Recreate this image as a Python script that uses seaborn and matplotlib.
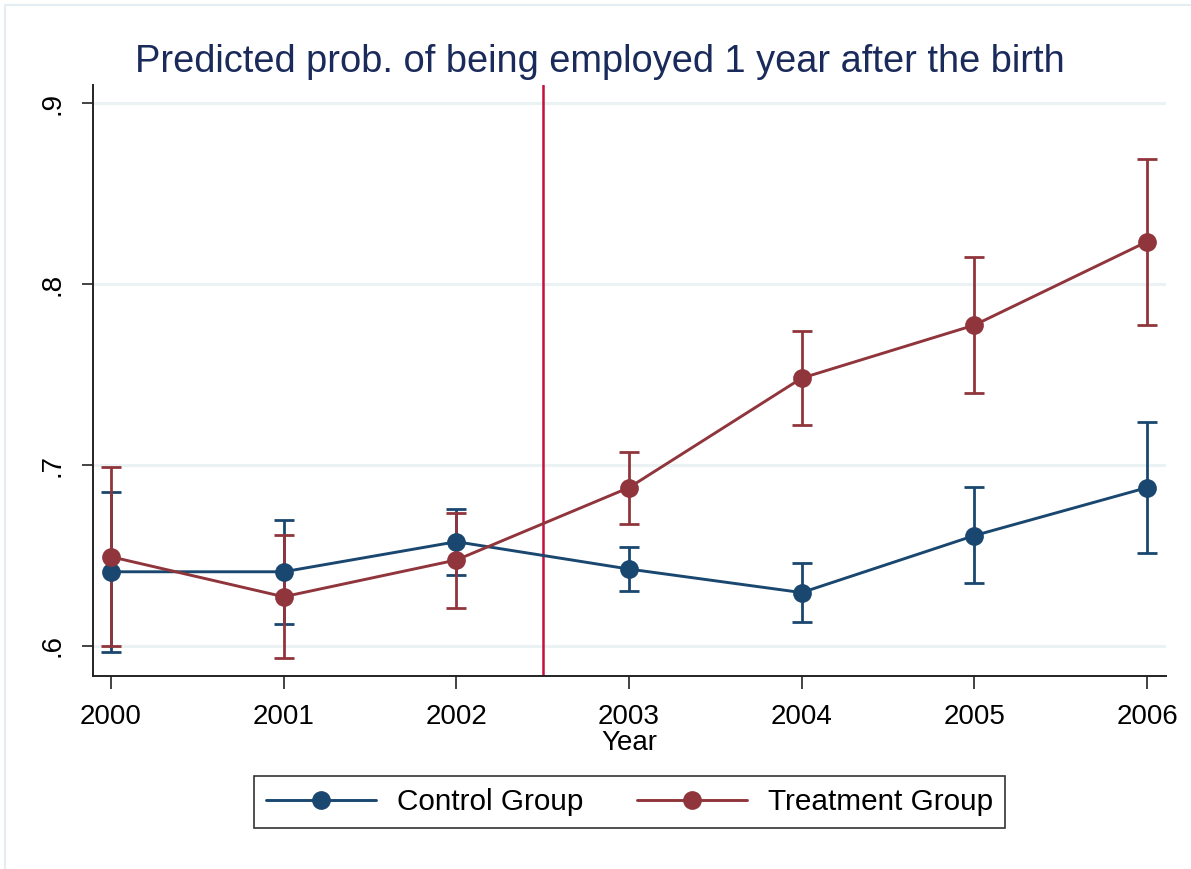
import matplotlib
matplotlib.use("Agg")
import matplotlib.pyplot as plt
from matplotlib.patches import Rectangle
import numpy as np
import pandas as pd
import seaborn as sns

# Predicted employment probabilities with 95% confidence bounds
years = [2000, 2001, 2002, 2003, 2004, 2005, 2006]
control = [0.641, 0.641, 0.6576, 0.6425, 0.6295, 0.661, 0.6875]
control_lo = [0.5965, 0.612, 0.6394, 0.6306, 0.6131, 0.6346, 0.6512]
control_hi = [0.6853, 0.6696, 0.6759, 0.6545, 0.6457, 0.6877, 0.7239]
treatment = [0.6493, 0.6272, 0.6475, 0.6875, 0.748, 0.7773, 0.8234]
treatment_lo = [0.600, 0.5935, 0.6212, 0.6674, 0.7219, 0.7396, 0.7773]
treatment_hi = [0.6991, 0.6612, 0.6733, 0.7073, 0.774, 0.8147, 0.8689]
groups = ["Control Group", "Treatment Group"]
reform_year = 2002.5
y_ticks = [0.6, 0.7, 0.8, 0.9]
y_tick_labels = [".6", ".7", ".8", ".9"]

NAVY = "#1a476f"
MAROON = "#90353b"
REFORM = "#c4103c"
GRID = "#eaf2f3"
TITLE = "#1a2a5a"

df = pd.DataFrame({
    "year": years * 2,
    "prob": control + treatment,
    "lo": control_lo + treatment_lo,
    "hi": control_hi + treatment_hi,
    "group": [groups[0]] * len(years) + [groups[1]] * len(years),
})

sns.set_theme(style="white")
plt.rcParams["font.family"] = ["Liberation Sans", "DejaVu Sans"]

fig = plt.figure(figsize=(11.91, 8.69), dpi=100)
ax = fig.add_axes([93 / 1191, 1 - 676 / 869, (1166 - 93) / 1191, (676 - 85) / 869])

# horizontal grid lines
for yt in y_ticks:
    ax.axhline(yt, color=GRID, lw=2.2, zorder=0)

# reform year marker
ax.axvline(reform_year, color=REFORM, lw=1.8, zorder=1)

palette = {groups[0]: NAVY, groups[1]: MAROON}
for g in groups:
    sub = df[df["group"] == g]
    ax.errorbar(sub["year"], sub["prob"],
                yerr=[sub["prob"] - sub["lo"], sub["hi"] - sub["prob"]],
                fmt="none", ecolor=palette[g], elinewidth=2.0,
                capsize=7.5, capthick=2.0, zorder=2)

sns.lineplot(data=df, x="year", y="prob", hue="group", palette=palette,
             marker="o", markersize=13.5, markeredgewidth=0, linewidth=2.1,
             ax=ax, legend=False, zorder=3)

ax.set_xlim(1999.896, 2006.11)
ax.set_ylim(0.5834, 0.910)
ax.set_xticks(years)
ax.set_xticklabels([str(y) for y in years], fontsize=20, color="black")
ax.set_yticks(y_ticks)
ax.set_yticklabels(y_tick_labels, fontsize=20, rotation=90, va="center", color="black")
ax.tick_params(axis="y", direction="out", length=8, width=1.2, color="#222222", pad=12, left=True)
ax.tick_params(axis="x", direction="out", length=9, width=1.2, color="#222222", pad=11.5, bottom=True)
ax.set_xlabel("Year", fontsize=20, labelpad=0, color="black")
ax.set_ylabel("")
for s in ["top", "right"]:
    ax.spines[s].set_visible(False)
for s in ["left", "bottom"]:
    ax.spines[s].set_color("#222222")
    ax.spines[s].set_linewidth(1.4)
ax.grid(False)

fig.text(600 / 1191, 1 - 72 / 869, "Predicted prob. of being employed 1 year after the birth",
         ha="center", va="baseline", fontsize=27.4, color=TITLE)

# legend below the plot
handles = [plt.Line2D([0], [0], color=palette[g], lw=2.1, marker="o", markersize=13.5,
                      markeredgewidth=0) for g in groups]
leg = fig.legend(handles, groups, loc="center", ncol=2,
                 bbox_to_anchor=(629.5 / 1191, 1 - 802 / 869),
                 fontsize=21.4, frameon=True, fancybox=False, edgecolor="black",
                 handlelength=3.7, handletextpad=0.7, columnspacing=1.8,
                 borderpad=0.4)
for t in leg.get_texts():
    t.set_color("black")
leg.get_frame().set_linewidth(1.2)

# faint outer frame
fig.patches.append(Rectangle((5 / 1191, -0.2), 1.3, 1.2 - 5 / 869,
                             transform=fig.transFigure, fill=False,
                             edgecolor="#e4edf1", lw=1.6))

fig.savefig("out.png", dpi=100, facecolor="white")
